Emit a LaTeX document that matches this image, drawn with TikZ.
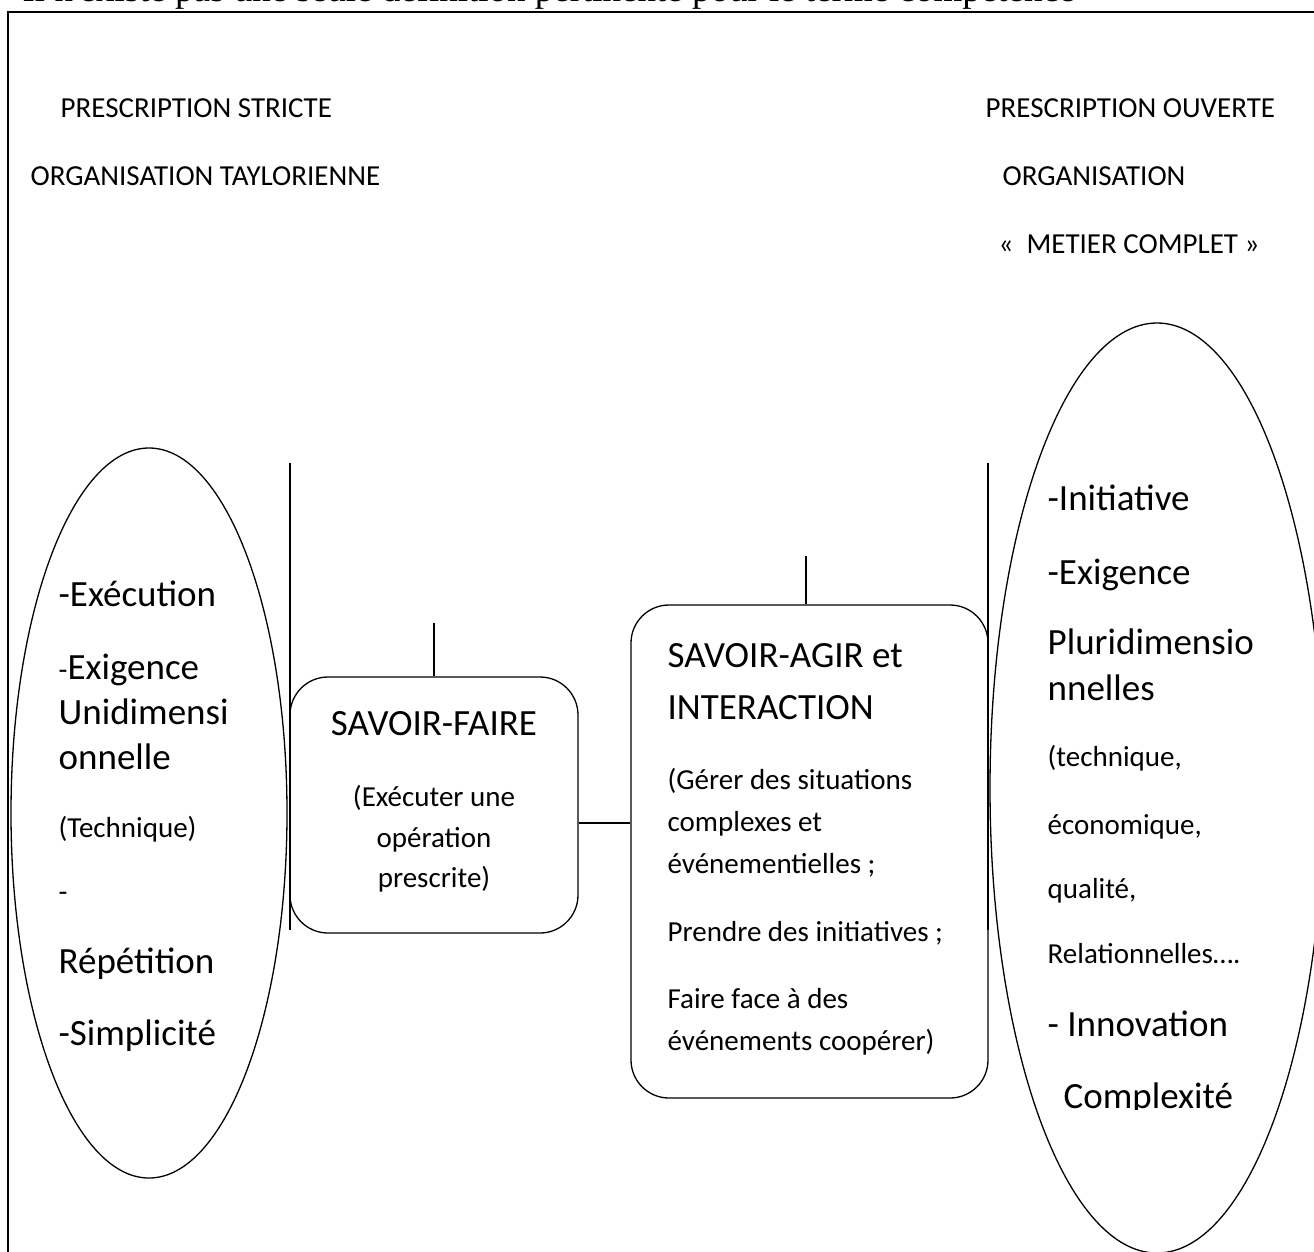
\documentclass[tikz,border=0pt]{standalone}
\usepackage{fontspec}
\setmainfont{Carlito}
\newfontfamily\titlefont{Liberation Serif}
\usetikzlibrary{shapes.geometric}

\begin{document}
\begin{tikzpicture}[x=1pt, y=-1pt, line width=1.3pt,
                    oval/.style={ellipse, draw, inner sep=0pt},
                    block/.style={rectangle, draw, rounded corners=38pt, inner sep=0pt},
                    big/.style={anchor=base west, inner sep=0pt, font=\fontsize{37}{44}\selectfont},
                    small/.style={anchor=base west, inner sep=0pt, font=\fontsize{29}{35}\selectfont}]
  \useasboundingbox (0,0) rectangle (1314,1251);
  \draw[line width=2pt] (8,12) rectangle (1340,1280);
  \node[anchor=base west, inner sep=0pt, font=\titlefont\fontsize{37}{44}\selectfont] (title) at (22,1) {Il n'existe pas une seule définition pertinente pour le terme compétence};
  % headings
  \node[small] (pstrict) at (60,117) {PRESCRIPTION STRICTE};
  \node[small] (taylor) at (30,185) {ORGANISATION TAYLORIENNE};
  \node[small] (pouvert) at (985,117) {PRESCRIPTION OUVERTE};
  \node[small] (orga) at (1002,185) {ORGANISATION};
  \node[small] (metier) at (998,253) {«~~METIER COMPLET~»};
  % the two ovals and their bars
  \node[oval, minimum width=276pt, minimum height=730pt] (strict) at (149,813) {};
  \node[oval, minimum width=334pt, minimum height=930pt] (ouvert) at (1157,788) {};
  \draw (290,463) -- (290,930);
  \draw (988,463) -- (988,930);
  % boxes
  \node[block, minimum width=288pt, minimum height=256pt] (sf) at (434,805) {};
  \node[block, minimum width=357pt, minimum height=493pt] (sa) at (809.5,851.5) {};
  \draw (sf.north) -- ++(0,-53);
  \draw ([xshift=-3.5pt]sa.north) -- ++(0,-48);
  \coordinate (mid) at (600,823);
  \draw (sf.east |- mid) -- (sa.west |- mid);
  % left oval
  \node[big] (l1) at (58,606) {-Exécution};
  \node[big] (l2) at (58,679) {{\fontsize{29}{35}\selectfont -}Exigence};
  \node[big] (l3) at (58,724) {Unidimensi};
  \node[big] (l4) at (58,769) {onnelle};
  \node[small] (l5) at (58,837) {(Technique)};
  \node[small] (l6) at (58,901) {-};
  \node[big] (l7) at (58,973) {Répétition};
  \node[big] (l8) at (58,1045) {-Simplicité};
  % savoir-faire
  \node[big, anchor=base] (f1) at (434,735) {SAVOIR-FAIRE};
  \node[small, anchor=base] (f2) at (434,806) {(Exécuter une};
  \node[small, anchor=base] (f3) at (434,847) {opération};
  \node[small, anchor=base] (f4) at (434,887) {prescrite)};
  % savoir-agir
  \node[big] (a1) at (667,667) {SAVOIR-AGIR et};
  \node[big] (a2) at (667,719) {INTERACTION};
  \node[small] (a3) at (667,789) {(Gérer des situations};
  \node[small] (a4) at (667,831) {complexes et};
  \node[small] (a5) at (667,873) {événementielles ;};
  \node[small] (a6) at (667,941) {Prendre des initiatives ;};
  \node[small] (a7) at (667,1008) {Faire face à des};
  \node[small] (a8) at (667,1050) {événements coopérer)};
  % right oval
  \node[big] (r1) at (1047,510) {-Initiative};
  \node[big] (r2) at (1047,584) {-Exigence};
  \node[big] (r3) at (1047,654) {Pluridimensio};
  \node[big] (r4) at (1047,700) {nnelles};
  \node[small] (r5) at (1047,766) {(technique,};
  \node[small] (r6) at (1047,834) {économique,};
  \node[small] (r7) at (1047,898) {qualité,};
  \node[small] (r8) at (1047,963) {Relationnelles….};
  \node[big] (r9) at (1047,1036) {- Innovation};
  \begin{scope}
    \clip (1000,1060) rectangle (1300,1109);
    \node[big] (r10) at (1063,1108) {Complexité};
  \end{scope}
\end{tikzpicture}
\end{document}
